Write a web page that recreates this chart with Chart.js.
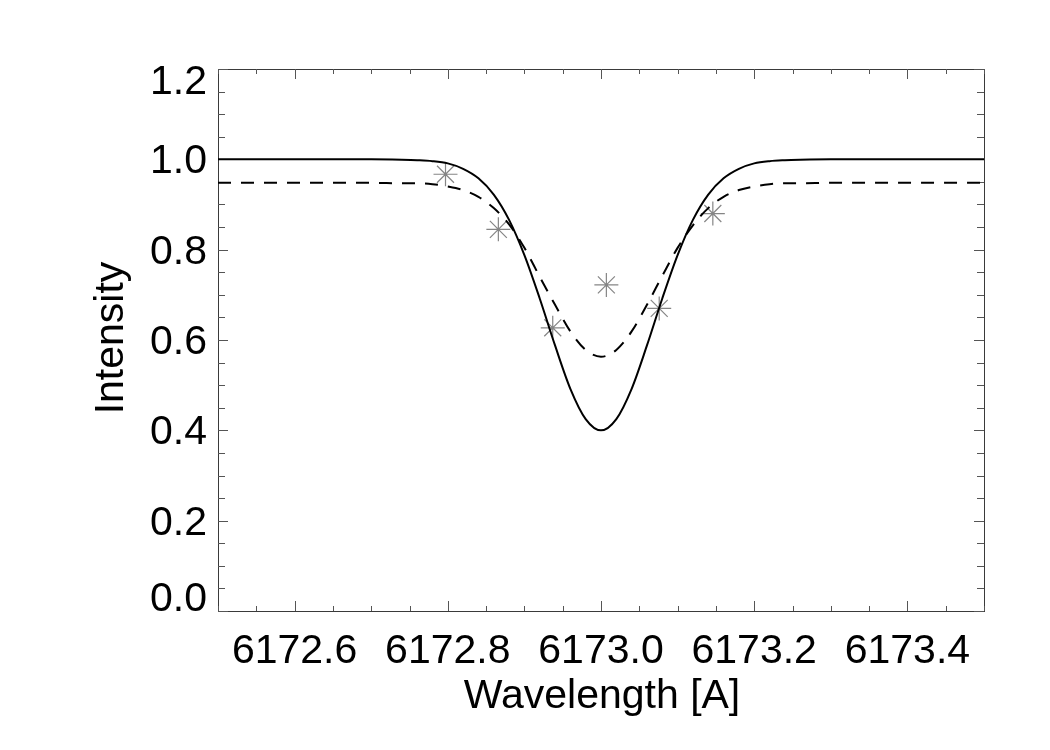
<!DOCTYPE html>
<html>
<head>
<meta charset="utf-8">
<title>Intensity profile</title>
<script src="https://cdn.jsdelivr.net/npm/chart.js@4.4.1/dist/chart.umd.min.js"></script>
<style>
    body { margin: 0; background: #ffffff; }
    #caixa { width: 1050px; height: 750px; }
</style>
</head>
<body>
<div id="caixa">
    <canvas id="grafico" width="1050" height="750"></canvas>
</div>
<script>
// wavelength grid for the two profiles
var comprimentos = [6172.5, 6172.6, 6172.7, 6172.74, 6172.76, 6172.78, 6172.8, 6172.82, 6172.84, 6172.86,
    6172.88, 6172.9, 6172.92, 6172.94, 6172.96, 6172.98, 6173.0, 6173.02, 6173.04, 6173.06,
    6173.08, 6173.1, 6173.12, 6173.14, 6173.16, 6173.18, 6173.2, 6173.22, 6173.24, 6173.26,
    6173.3, 6173.4, 6173.5];

// solid profile
var perfilCheio = [1.000, 1.000, 1.000, 0.999, 0.998, 0.996, 0.991, 0.979, 0.958, 0.922,
    0.866, 0.788, 0.692, 0.588, 0.492, 0.425, 0.400, 0.425, 0.492, 0.588,
    0.692, 0.788, 0.866, 0.922, 0.958, 0.979, 0.991, 0.996, 0.998, 0.999,
    1.000, 1.000, 1.000];

// dashed profile
var perfilTracejado = [0.948, 0.948, 0.948, 0.947, 0.947, 0.945, 0.940, 0.932, 0.917, 0.892,
    0.856, 0.804, 0.740, 0.678, 0.619, 0.578, 0.563, 0.578, 0.619, 0.678,
    0.742, 0.804, 0.854, 0.892, 0.917, 0.932, 0.940, 0.945, 0.947, 0.947,
    0.948, 0.948, 0.948];

// observed points (asterisks)
var obsComprimento = [6172.797, 6172.866, 6172.937, 6173.007, 6173.076, 6173.146];
var obsIntensidade = [0.967, 0.845, 0.627, 0.722, 0.670, 0.880];

var ticksX = [6172.6, 6172.8, 6173.0, 6173.2, 6173.4];
var ticksY = [0.0, 0.2, 0.4, 0.6, 0.8, 1.0, 1.2];

var tituloX = 'Wavelength [A]';
var tituloY = 'Intensity';

function juntar(xs, ys) {
    var pontos = [];
    for (var i = 0; i < xs.length; i++) {
        pontos.push({ x: xs[i], y: ys[i] });
    }
    return pontos;
}

var fonte = '41px "Liberation Sans", Arial, Helvetica, sans-serif';

// box, inward ticks and labels drawn the IDL way
var eixosIDL = {
    id: 'eixosIDL',
    beforeDatasetsDraw: function (chart) {
        var ctx = chart.ctx;
        var a = chart.chartArea;
        var sx = chart.scales.x;
        var sy = chart.scales.y;
        ctx.save();
        ctx.strokeStyle = '#3a3a3a';
        ctx.lineWidth = 1;
        ctx.strokeRect(a.left + 0.5, a.top + 0.5, a.right - a.left, a.bottom - a.top);

        ctx.strokeStyle = '#555555';
        ctx.beginPath();
        for (var v = sx.min; v <= sx.max + 1e-6; v += 0.05) {
            var px = Math.round(sx.getPixelForValue(v)) + 0.5;
            var maior = Math.abs(Math.round(v * 5) - v * 5) < 1e-4;
            var len = maior ? 10 : 5;
            ctx.moveTo(px, a.bottom);
            ctx.lineTo(px, a.bottom - len);
            ctx.moveTo(px, a.top);
            ctx.lineTo(px, a.top + len);
        }
        for (var w = sy.min; w <= sy.max + 1e-6; w += 0.05) {
            var py = Math.round(sy.getPixelForValue(w)) + 0.5;
            var maiorY = Math.abs(Math.round(w * 5) - w * 5) < 1e-4;
            var lenY = maiorY ? 10 : 7;
            ctx.moveTo(a.left, py);
            ctx.lineTo(a.left + lenY, py);
            ctx.moveTo(a.right, py);
            ctx.lineTo(a.right - lenY, py);
        }
        ctx.stroke();
        ctx.restore();
    },
    afterDraw: function (chart) {
        var ctx = chart.ctx;
        var a = chart.chartArea;
        var sx = chart.scales.x;
        var sy = chart.scales.y;
        ctx.save();
        ctx.fillStyle = '#000000';
        ctx.font = fonte;
        ctx.textBaseline = 'alphabetic';

        ctx.textAlign = 'center';
        for (var i = 0; i < ticksX.length; i++) {
            ctx.fillText(ticksX[i].toFixed(1), sx.getPixelForValue(ticksX[i]), a.bottom + 52);
        }

        ctx.textAlign = 'right';
        for (var j = 0; j < ticksY.length; j++) {
            var centro = sy.getPixelForValue(ticksY[j]);
            centro = Math.max(a.top + 11, Math.min(a.bottom - 14, centro));
            ctx.fillText(ticksY[j].toFixed(1), a.left - 11, centro + 14);
        }

        ctx.textAlign = 'center';
        ctx.fillText(tituloX, (a.left + a.right) / 2 + 1, a.bottom + 97);

        ctx.translate(123, (a.top + a.bottom) / 2 - 2);
        ctx.rotate(-Math.PI / 2);
        ctx.fillText(tituloY, 0, 0);
        ctx.restore();
    }
};

const ctx1 = document.getElementById('grafico');

new Chart(ctx1, {
    type: 'scatter',
    data: {
        datasets: [{
            label: 'perfil',
            data: juntar(comprimentos, perfilCheio),
            showLine: true,
            borderColor: '#000000',
            borderWidth: 2,
            pointRadius: 0,
            cubicInterpolationMode: 'monotone'
        }, {
            label: 'perfil tracejado',
            data: juntar(comprimentos, perfilTracejado),
            showLine: true,
            borderColor: '#000000',
            borderWidth: 2,
            borderDash: [13, 10],
            pointRadius: 0,
            cubicInterpolationMode: 'monotone'
        }, {
            label: 'observado',
            data: juntar(obsComprimento, obsIntensidade),
            showLine: false,
            pointStyle: 'star',
            pointRadius: 12,
            borderColor: '#858585',
            borderWidth: 1.2,
            backgroundColor: '#858585'
        }]
    },
    options: {
        responsive: false,
        devicePixelRatio: 1,
        animation: false,
        layout: {
            padding: { left: 218, right: 66, top: 69, bottom: 139 }
        },
        plugins: {
            legend: { display: false },
            tooltip: { enabled: false }
        },
        scales: {
            x: {
                type: 'linear',
                min: 6172.5,
                max: 6173.5,
                display: false
            },
            y: {
                type: 'linear',
                min: 0,
                max: 1.2,
                display: false
            }
        }
    },
    plugins: [eixosIDL]
});
</script>
</body>
</html>
